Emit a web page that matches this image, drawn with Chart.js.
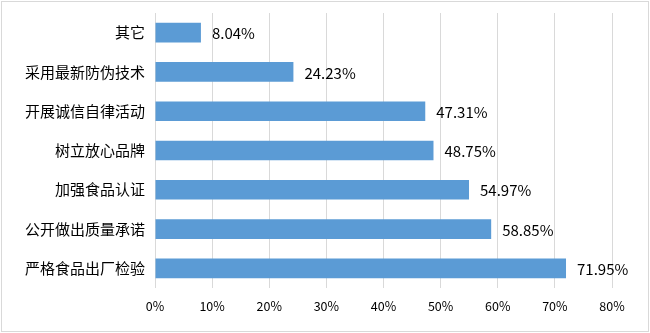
<!DOCTYPE html>
<html>
<head>
<meta charset="utf-8">
<script src="https://cdn.jsdelivr.net/npm/chart.js@4/dist/chart.umd.min.js"></script>
<style>
  html, body { margin: 0; padding: 0; background: #fff; }
  #wrap { width: 650px; height: 333px; position: relative; }
</style>
</head>
<body>
<div id="wrap"><canvas id="chart" width="650" height="333"></canvas></div>
<script>
const categories = ['其它', '采用最新防伪技术', '开展诚信自律活动', '树立放心品牌', '加强食品认证', '公开做出质量承诺', '严格食品出厂检验'];
const shares = [8.04, 24.23, 47.31, 48.75, 54.97, 58.85, 71.95];
const axisMax = 80;
const axisStep = 10;

const FONT = '"Noto Sans CJK SC", "Microsoft YaHei", sans-serif';

// thin grey frame round the whole canvas
const frame = {
  id: 'frame',
  beforeDraw(chart) {
    const ctx = chart.ctx;
    ctx.save();
    ctx.strokeStyle = '#d9d9d9';
    ctx.lineWidth = 1;
    ctx.strokeRect(1.5, 1.5, chart.width - 3, chart.height - 3);
    ctx.restore();
  }
};

// value text to the right of each bar
const barValues = {
  id: 'barValues',
  afterDatasetsDraw(chart) {
    const ctx = chart.ctx;
    const meta = chart.getDatasetMeta(0);
    ctx.save();
    ctx.font = '15px ' + FONT;
    ctx.fillStyle = '#000';
    ctx.textAlign = 'left';
    ctx.textBaseline = 'middle';
    meta.data.forEach((bar, i) => {
      ctx.fillText(shares[i].toFixed(2) + '%', bar.x + 11, bar.y + 1);
    });
    ctx.restore();
  }
};

new Chart(document.getElementById('chart'), {
  type: 'bar',
  data: {
    labels: categories,
    datasets: [{
      data: shares,
      backgroundColor: '#5b9bd5',
      barPercentage: 0.5,
      categoryPercentage: 1
    }]
  },
  options: {
    indexAxis: 'y',
    responsive: false,
    animation: false,
    layout: { padding: { top: 13, right: 38, bottom: 1, left: 0 } },
    plugins: {
      legend: { display: false },
      tooltip: { enabled: false }
    },
    scales: {
      x: {
        min: 0,
        max: axisMax,
        border: { display: false },
        grid: { color: '#d9d9d9', drawTicks: false },
        ticks: {
          stepSize: axisStep,
          padding: 11,
          color: '#000',
          font: { family: FONT, size: 12.5 },
          callback: v => v + '%'
        },
        afterFit(scale) {
          scale.height = 44;
          scale.paddingLeft = 0;
          scale.paddingRight = 0;
        }
      },
      y: {
        border: { display: false },
        grid: { display: false, drawTicks: false },
        ticks: {
          padding: 10,
          color: '#000',
          font: { family: FONT, size: 15 }
        },
        afterFit(scale) {
          scale.width = 155;
          // bands are centred, so no extra room is needed above/below
          scale.paddingTop = 0;
          scale.paddingBottom = 0;
        }
      }
    }
  },
  plugins: [frame, barValues]
});
</script>
</body>
</html>
